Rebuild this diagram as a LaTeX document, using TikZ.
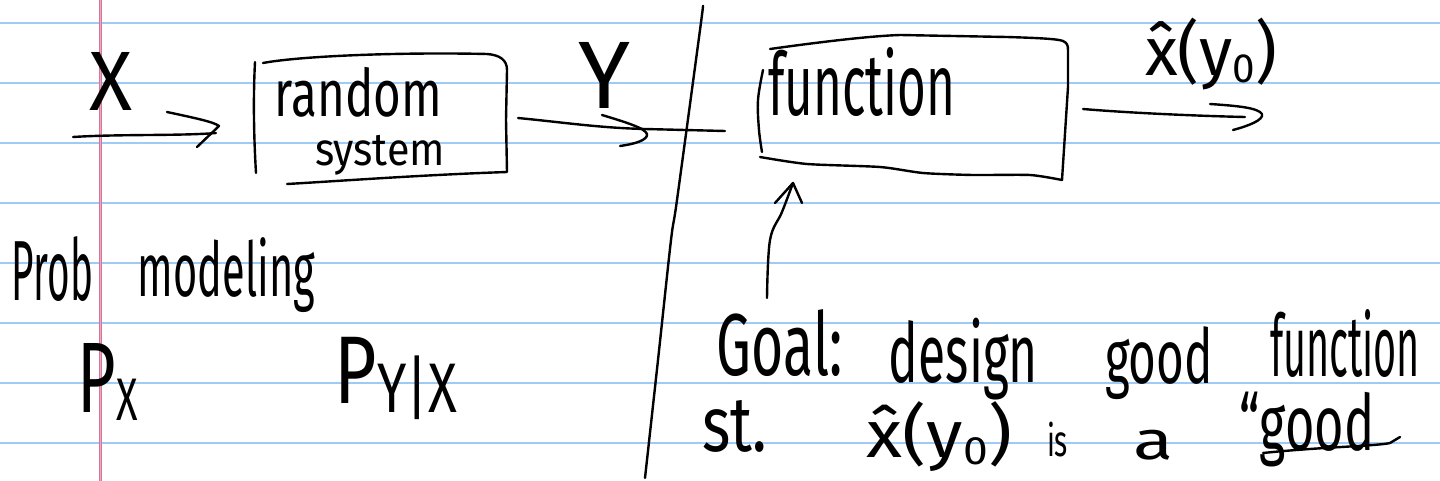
\documentclass[tikz,border=0pt]{standalone}
\usepackage{fontspec}
\usepackage{graphicx}
\newfontfamily\handfont{Fira Sans}
\definecolor{ruleblue}{RGB}{158,203,246}
\definecolor{marginred}{RGB}{212,118,150}
\definecolor{marginpale}{RGB}{236,168,192}
% scale a piece of handwriting to a box of width #1 and total height #2 (pt)
\newcommand{\fitto}[3]{\resizebox*{#1pt}{#2pt}{#3}}

\begin{document}
\begin{tikzpicture}[x=1pt,y=-1pt,
  ink/.style={line width=2.4pt, line cap=round, line join=round, black},
  rule/.style={line width=2.2pt, ruleblue},
  hand/.style={inner sep=0pt, outer sep=0pt, font=\handfont}]

% ruled notebook page
\fill[white] (0,0) rectangle (1440,481);
\useasboundingbox (0,0) rectangle (1440,481);
\foreach \yy in {23,83,143,203,263,323,383,443}
  \draw[rule] (0,\yy) -- (1440,\yy);
\draw[line width=3pt, marginred] (100.5,0) -- (100.5,481);
\draw[line width=1pt, marginpale] (100.5,0) -- (100.5,481);

% ---------- input X ----------
\node[hand] (lblX) at (111.5,81) {\fitto{43}{58}{X}};
\coordinate (xin) at (73,137);
\coordinate (xtip) at (216,133);
\draw[ink] (xin) .. controls (120,134) and (180,136) .. (xtip);
\draw[ink] (167,112) .. controls (195,118) and (214,122) .. (219,126) -- (197,147);

% ---------- random system box ----------
\draw[ink] (255,62) .. controls (253,100) and (254,140) .. (256,173);
\draw[ink] (263,63) .. controls (300,56) and (400,52) .. (487,54)
  .. controls (500,55) and (507,60) .. (507,70) -- (506,120) -- (507,172)
  .. controls (420,175) and (340,181) .. (287,184);
\node[hand] (rand) at (358.5,92) {\fitto{167}{50}{random}};
\node[hand] (sys) at (380,155) {\fitto{130}{40}{system}};

% ---------- output Y ----------
\node[hand] (lblY) at (604,75) {\fitto{52}{66}{Y}};
\coordinate (yout) at (518,118);
\coordinate (yend) at (725,131);
\draw[ink] (yout) .. controls (560,122) and (600,128) .. (645,129) -- (yend);
\draw[ink] (602,115) .. controls (625,122) and (645,128) .. (647,134)
  .. controls (648,140) and (635,144) .. (620,146);

% ---------- dividing stroke ----------
\draw[ink] plot[smooth, tension=0.5] coordinates
  {(703,6) (700,30) (677,200) (671,240) (658,360) (645,478)};

% ---------- function box ----------
\draw[ink] plot[smooth, tension=0.6] coordinates
  {(763,70) (758,100) (759,130) (762,152)};
\draw[ink] (770,49) .. controls (820,42) and (870,36) .. (900,35) -- (1007,37)
  .. controls (1040,38) and (1058,39) .. (1063,41)
  .. controls (1067,43) and (1068,45) .. (1068,50) -- (1068,87) -- (1062,180);
\draw[ink] plot[smooth, tension=0.4] coordinates
  {(1062,180) (1030,175) (973,175) (923,173) (880,167) (807,164) (760,157)};
\node[hand] (fn) at (861.5,82.5) {\fitto{187}{69}{function}};

% ---------- estimate out ----------
\coordinate (fout) at (1083,109);
\coordinate (ftip) at (1245,117);
\draw[ink] (fout) .. controls (1130,113) and (1200,116) .. (ftip);
\draw[ink] (1210,104) .. controls (1240,106) and (1258,108) .. (1262,114)
  .. controls (1264,120) and (1248,126) .. (1233,130);
\node[hand] (est) at (1211,54) {\fitto{132}{72}{x̂(y\raisebox{-0.1em}{\scalebox{0.6}{0}})}};

% ---------- arrow from goal to the function ----------
\coordinate (gstart) at (767,298);
\coordinate (gtip) at (793,183);
\draw[ink] plot[smooth, tension=0.6] coordinates
  {(gstart) (770,240) (782,212) (gtip)};
\draw[ink] (775,203) -- (gtip) -- (802,203);

% ---------- probabilistic modelling ----------
\node[hand] (prob) at (52.5,269.5) {\fitto{81}{65}{Prob}};
\node[hand] (model) at (226.5,275.5) {\fitto{177}{75}{modeling}};
\node[hand] (px) at (108,381.5)
  {\fitto{60}{77}{P\raisebox{-0.08em}{\scalebox{0.6}{X}}}};
\node[hand] (pyx) at (396,378.5)
  {\fitto{122}{83}{P\raisebox{-0.1em}{\scalebox{0.73}{Y|X}}}};

% ---------- goal statement ----------
\node[hand] (goal) at (780,343.5) {\fitto{126}{67}{Goal:}};
\node[hand] (design) at (963.5,359) {\fitto{149}{82}{design}};
\node[hand] (good1) at (1159,363.5) {\fitto{108}{73}{good}};
\node[hand] (func2) at (1345,344) {\fitto{150}{68}{function}};
\node[hand] (st) at (734.5,426) {\fitto{65}{52}{st.}};
\node[hand] (est2) at (939.5,437) {\fitto{145}{70}{x̂(y\raisebox{-0.1em}{\scalebox{0.6}{0}})}};
\node[hand] (is) at (1057.5,439.5) {\fitto{21}{35}{is}};
\node[hand] (a) at (1153,445) {\fitto{40}{30}{a}};
\node[hand] (good2) at (1307,429.5) {\fitto{135}{75}{“good}};
\coordinate (ul0) at (1263,453);
\coordinate (ul1) at (1400,437);
\draw[ink] (ul0) .. controls (1320,447) and (1378,446) .. (1390,443) -- (ul1);
\end{tikzpicture}
\end{document}
